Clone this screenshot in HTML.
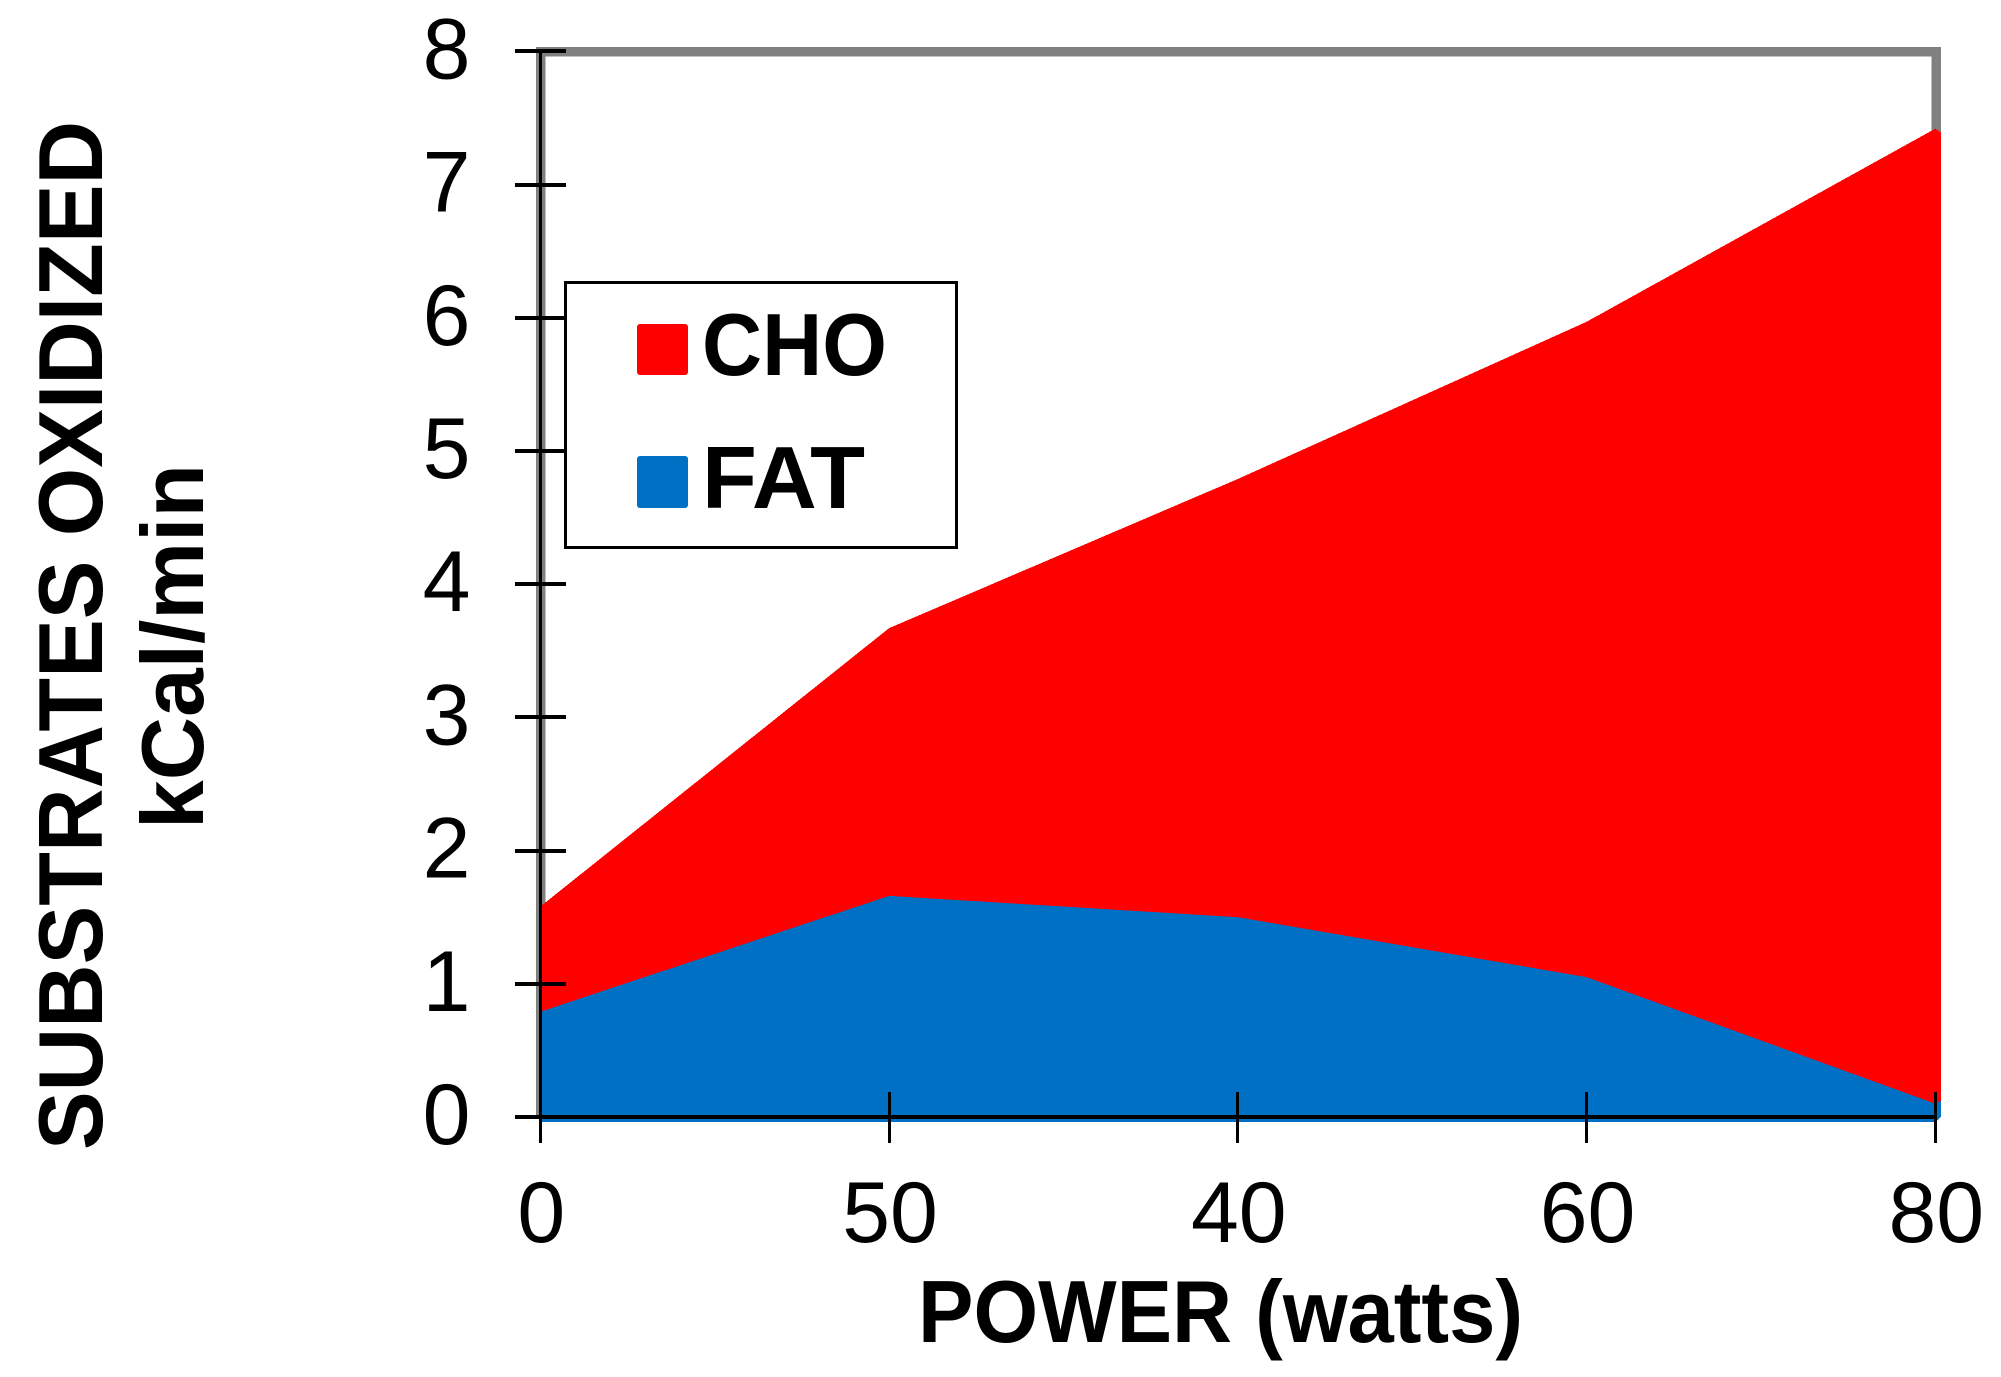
<!DOCTYPE html>
<html>
<head>
<meta charset="utf-8">
<title>Substrates oxidized vs power</title>
<style>
html,body{margin:0;padding:0;background:#fff;width:2001px;height:1377px;overflow:hidden}
svg{display:block}
text{font-family:"Liberation Sans",Arial,sans-serif;fill:#000}
.b{font-weight:700;font-size:88px}
.t{font-size:86px;text-anchor:middle}
</style>
</head>
<body>
<svg id="chart" xmlns="http://www.w3.org/2000/svg" width="2001" height="1377" viewBox="0 0 2001 1377"></svg>
<script>
const xLabels = ['0', '50', '40', '60', '80'];
const yTickLabels = [0, 1, 2, 3, 4, 5, 6, 7, 8];
const fatValues = [0.79, 1.66, 1.50, 1.05, 0.10];
const choValues = [0.79, 2.01, 3.29, 4.92, 7.32];

const svg = document.getElementById('chart');
const NS = 'http://www.w3.org/2000/svg';
const x0 = 540.3, xStep = 348.75, y0 = 1117, yUnit = 133.2;
const xScale = i => x0 + i * xStep;
const yScale = v => y0 - v * yUnit;

function mk(tag, attrs, parent) {
  const el = document.createElementNS(NS, tag);
  for (const k in attrs) el.setAttribute(k, attrs[k]);
  (parent || svg).appendChild(el);
  return el;
}
function areaPath(tops) {
  const n = tops.length - 1;
  let d = 'M' + xScale(0) + ' ' + yScale(tops[0]);
  for (let i = 1; i <= n; i++) d += ' L' + xScale(i) + ' ' + yScale(tops[i]);
  d += ' L' + (xScale(n) + 5.7) + ' ' + (yScale(tops[n]) + (tops[n] > 1 ? 4 : -3));
  d += ' L' + (xScale(n) + 5.7) + ' ' + y0;
  d += ' L' + xScale(n) + ' ' + (y0 + 5);
  d += ' L' + xScale(0) + ' ' + (y0 + 5) + ' Z';
  return d;
}

// gray plot frame
const frame = mk('path', {d: 'M540.5 1119 L540.5 51.5 L1936 51.5 L1936 200', fill: 'none', stroke: '#808080', 'stroke-width': 9.5, 'shape-rendering': 'crispEdges'});



// stacked areas
const totals = fatValues.map((f, i) => f + choValues[i]);
const choArea = mk('path', {d: areaPath(totals), fill: '#ff0000', 'shape-rendering': 'crispEdges'});


const fatArea = mk('path', {d: areaPath(fatValues), fill: '#0070c4', 'shape-rendering': 'crispEdges'});



// axes
const yAxis = mk('line', {x1: 540.5, x2: 540.5, y1: yScale(8), y2: y0, stroke: '#000', 'stroke-width': 3, 'shape-rendering': 'crispEdges'});


const xAxis = mk('line', {x1: 515, x2: xScale(4), y1: y0, y2: y0, stroke: '#000', 'stroke-width': 4, 'shape-rendering': 'crispEdges'});



yTickLabels.forEach(v => {
  const tickY = Math.round(yScale(v));
  const tick = mk('line', {x1: 515, x2: 566, y1: tickY, y2: tickY, stroke: '#000', 'stroke-width': 4, 'shape-rendering': 'crispEdges'});
  
  
  const label = mk('text', {x: 446.5, y: yScale(v) + 27, class: 't'});
  label.textContent = v;
  
  
});
xLabels.forEach((t, i) => {
  const tickX = Math.floor(xScale(i)) + 0.5;
  const tick = mk('line', {x1: tickX, x2: tickX, y1: 1092, y2: 1143, stroke: '#000', 'stroke-width': 3, 'shape-rendering': 'crispEdges'});
  
  
  const label = mk('text', {x: xScale(i) + 1, y: 1242, class: 't'});
  label.textContent = t;
  
  
});

// axis titles
const xTitle = mk('text', {x: 918, y: 1342, class: 'b', textLength: 605, lengthAdjust: 'spacingAndGlyphs'});
xTitle.textContent = 'POWER (watts)';


const yTitle = mk('text', {transform: 'translate(102 1150) rotate(-90)', class: 'b', style: 'font-size:91px', textLength: 1029, lengthAdjust: 'spacingAndGlyphs'});
yTitle.textContent = 'SUBSTRATES OXIDIZED';


const yUnits = mk('text', {transform: 'translate(203 829) rotate(-90)', class: 'b', textLength: 365, lengthAdjust: 'spacingAndGlyphs'});
yUnits.textContent = 'kCal/min';



// legend
const legendBox = mk('rect', {x: 565.5, y: 282.5, width: 391, height: 265, fill: '#fff', stroke: '#000', 'stroke-width': 3, 'shape-rendering': 'crispEdges'});


const choSwatch = mk('rect', {x: 637, y: 324, width: 51, height: 51, rx: 3, fill: '#ff0000'});


const fatSwatch = mk('rect', {x: 637, y: 456, width: 51, height: 52, rx: 3, fill: '#0070c4'});


const choLabel = mk('text', {x: 702, y: 375, class: 'b', textLength: 185, lengthAdjust: 'spacingAndGlyphs'});
choLabel.textContent = 'CHO';


const fatLabel = mk('text', {x: 702, y: 508, class: 'b', textLength: 163, lengthAdjust: 'spacingAndGlyphs'});
fatLabel.textContent = 'FAT';


</script>
</body>
</html>
